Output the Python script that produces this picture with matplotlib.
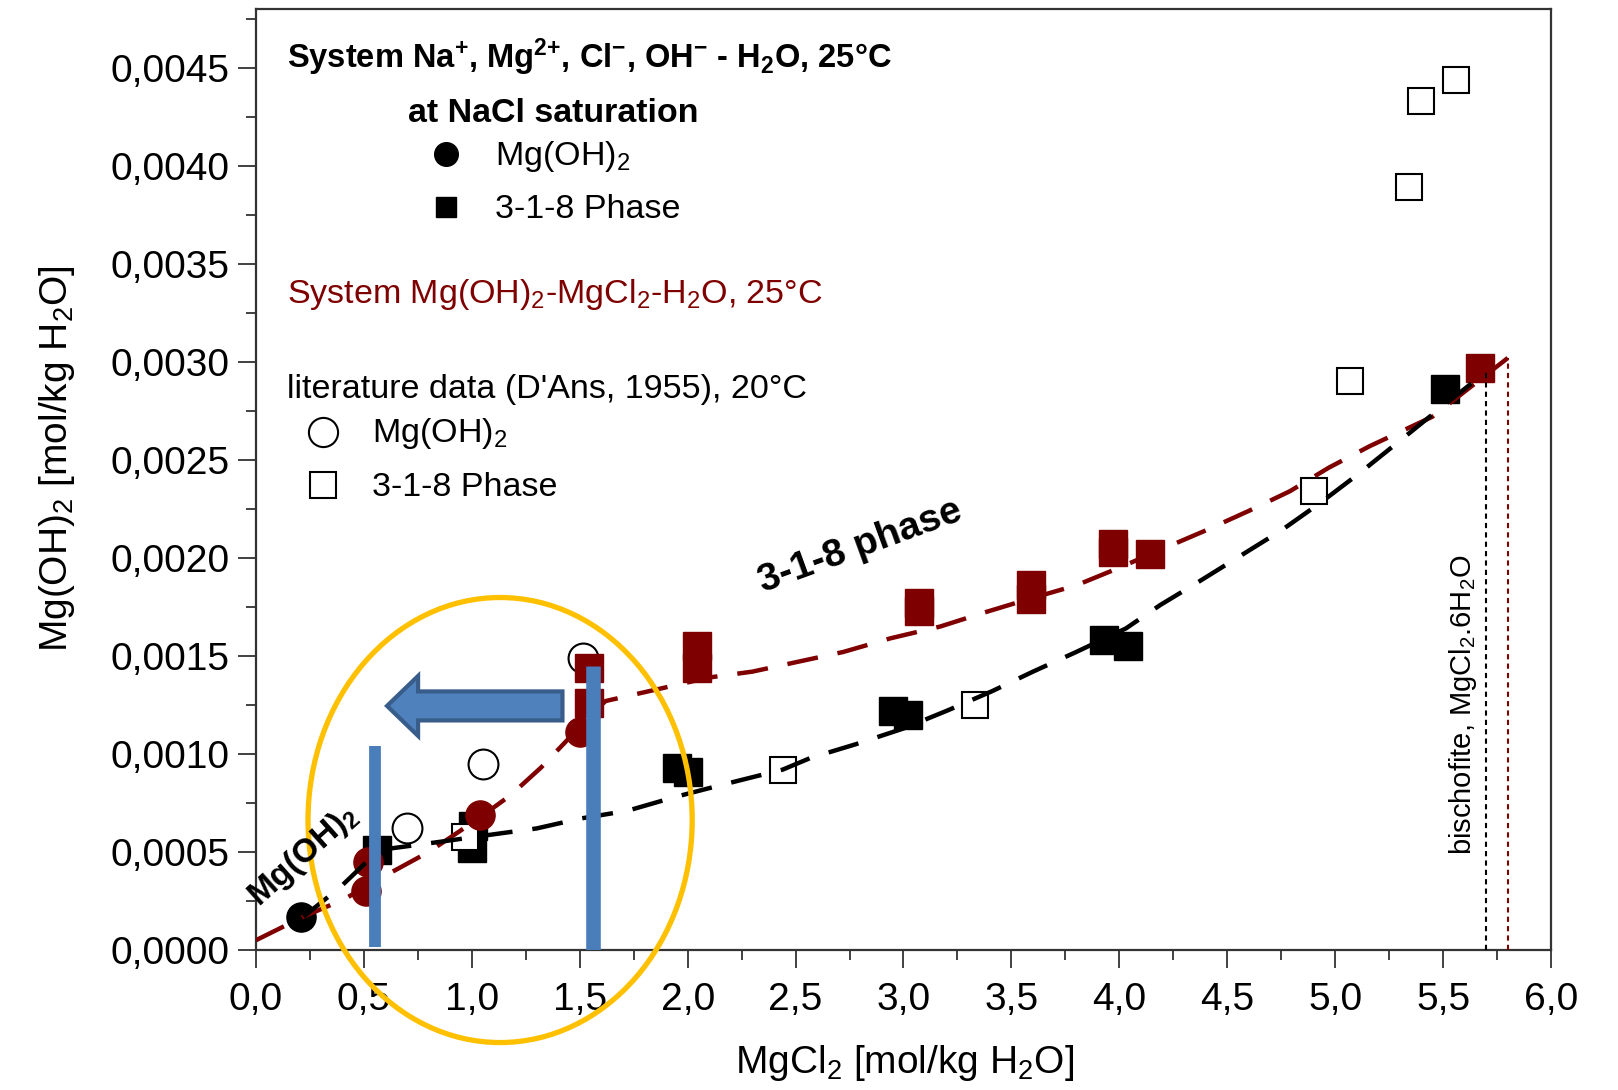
import matplotlib
matplotlib.use('Agg')
import matplotlib.pyplot as plt
from matplotlib.patches import Ellipse, FancyArrow
from matplotlib.ticker import MultipleLocator, FuncFormatter

plt.rcParams['font.family'] = ['Liberation Sans', 'DejaVu Sans']
plt.rcParams['mathtext.default'] = 'regular'

DARKRED = '#7F0000'
BLUE = '#4A7EBB'

# ---------------- data ----------------
# System Na+, Mg2+, Cl-, OH- - H2O at NaCl saturation (black)
nacl_mgoh2_x = [0.21]
nacl_mgoh2_y = [0.00017]
nacl_318_x = [0.56, 1.00, 1.005, 1.95, 2.00, 2.95, 3.02, 3.93, 4.04, 5.51]
nacl_318_y = [0.00051, 0.00052, 0.00063, 0.00093, 0.00091, 0.00122, 0.00120, 0.00158, 0.00155, 0.00286]

# System Mg(OH)2-MgCl2-H2O (dark red)
mg_mgoh2_x = [0.51, 0.52, 1.04, 1.50]
mg_mgoh2_y = [0.00030, 0.00045, 0.00069, 0.00111]
mg_318_x = [1.545, 1.545, 2.045, 2.045, 3.07, 3.07, 3.59, 3.59, 3.97, 3.97, 4.14, 5.67]
mg_318_y = [0.00144, 0.00126, 0.00155, 0.00144, 0.00177, 0.00173, 0.00186, 0.00179, 0.00207, 0.00203, 0.00202, 0.00297]

# literature data (D'Ans, 1955)
lit_mgoh2_x = [0.70, 1.05, 1.515]
lit_mgoh2_y = [0.00062, 0.00095, 0.00149]
lit_318_x = [0.97, 2.44, 3.33, 4.90, 5.07, 5.34, 5.40, 5.56]
lit_318_y = [0.000575, 0.00092, 0.00125, 0.00234, 0.00290, 0.00389, 0.00433, 0.00444]

# dashed solubility curves
curve_red_x = [0.0, 0.22, 0.41, 0.6, 0.8, 1.03, 1.18, 1.32, 1.45, 1.55, 1.62, 1.86, 2.1, 2.3,
               2.51, 2.72, 2.94, 3.17, 3.37, 3.58, 3.8, 4.0, 4.23, 4.4, 4.6, 4.79, 4.97, 5.16,
               5.45, 5.80]
curve_red_y = [0.00005, 0.00017, 0.00026, 0.00038, 0.00050, 0.00067, 0.00079, 0.00093, 0.00108,
               0.00120, 0.00127, 0.00133, 0.00139, 0.00142, 0.00147, 0.00152, 0.00159, 0.00165,
               0.00172, 0.00179, 0.00186, 0.00195, 0.00206, 0.00214, 0.00224, 0.00234, 0.00246,
               0.00257, 0.00272, 0.00302]
curve_black_x = [0.22, 0.39, 0.57, 0.84, 1.1, 1.3, 1.5, 1.72, 1.94, 2.15, 2.44, 2.57, 2.78, 3.0,
                 3.2, 3.41, 3.6, 3.8, 4.03, 4.19, 4.37, 4.56, 4.75, 4.93, 5.11, 5.28, 5.46, 5.70]
curve_black_y = [0.00017, 0.00032, 0.00051, 0.00055, 0.00059, 0.00062, 0.00067, 0.00071, 0.00078,
                 0.00084, 0.00092, 0.00098, 0.00105, 0.00113, 0.00122, 0.00132, 0.00142, 0.00152,
                 0.00164, 0.00176, 0.00188, 0.00201, 0.00214, 0.00228, 0.00243, 0.00258, 0.00274,
                 0.00295]

# bischofite saturation limits
bisch_black_x = 5.70
bisch_red_x = 5.80

# -------------- figure --------------
fig = plt.figure(figsize=(16.18, 10.9), dpi=100)
ax = fig.add_axes([0.15822, 0.12844, 0.80037, 0.86330])
ax.set_xlim(0, 6.0)
ax.set_ylim(0, 0.0048)

# markers
ax.plot(nacl_318_x, nacl_318_y, 's', color='black', ms=20, mec='black', zorder=3)
ax.plot(nacl_mgoh2_x, nacl_mgoh2_y, 'o', color='black', ms=21, mec='black', zorder=3)
ax.plot(lit_318_x, lit_318_y, 's', mfc='white', mec='black', mew=1.5, ms=19, zorder=4)
ax.plot(lit_mgoh2_x, lit_mgoh2_y, 'o', mfc='white', mec='black', mew=1.5, ms=21.5, zorder=4)
ax.plot(mg_318_x, mg_318_y, 's', color=DARKRED, mec=DARKRED, ms=20, zorder=5)
ax.plot(mg_mgoh2_x, mg_mgoh2_y, 'o', color=DARKRED, mec=DARKRED, ms=21, zorder=5)

# curves
ax.plot(curve_red_x, curve_red_y, color=DARKRED, lw=3.2, dashes=(7, 4.5), zorder=6)
ax.plot(curve_black_x, curve_black_y, color='black', lw=3.2, dashes=(7, 4.5), zorder=6)

# bischofite vertical lines
ax.plot([bisch_black_x, bisch_black_x], [0, curve_black_y[-1]], color='black', lw=1.5,
        dashes=(2.5, 2), zorder=6)
ax.plot([bisch_red_x, bisch_red_x], [0, curve_red_y[-1]], color=DARKRED, lw=1.5,
        dashes=(2.5, 2), zorder=6)

# annotations: blue bars, arrow and ellipse
ax.plot([0.551, 0.551], [0.000015, 0.00104], color=BLUE, lw=8.5, solid_capstyle='butt', zorder=7)
ax.plot([1.563, 1.563], [0.0, 0.00145], color=BLUE, lw=10.5, solid_capstyle='butt', zorder=7)
arrow = FancyArrow(1.42, 0.001245, -(1.42 - 0.607), 0, width=0.000148, head_width=0.000306,
                   head_length=0.144, length_includes_head=True, fc='#4F81BD', ec='#385D8A',
                   lw=3, zorder=7)
ax.add_patch(arrow)
ell = Ellipse((1.131, 0.000663), 1.78, 0.00227, fill=False, ec='#FFC000', lw=3.8,
              zorder=8, clip_on=False)
ax.add_patch(ell)

# in-plot texts
ax.text(2.80, 0.00206, '3-1-8 phase', fontsize=28, fontweight='bold', rotation=20,
        ha='center', va='center', zorder=9)
ax.text(0.218, 0.00048, 'Mg(OH)$_2$', fontsize=24, fontweight='bold', rotation=42,
        ha='center', va='center', zorder=9)
ax.text(5.59, 0.00125, 'bischofite, MgCl$_2$.6H$_2$O', fontsize=21, rotation=90,
        ha='center', va='center', zorder=9)

# legend block
T = ax.transAxes
ax.text(0.0239, 0.937, 'System Na$^{+}$, Mg$^{2{+}}$, Cl$^{-}$, OH$^{-}$ - H$_2$O, 25°C',
        transform=T, fontsize=23.5, fontweight='bold', va='baseline')
ax.text(0.117, 0.880, 'at NaCl saturation', transform=T, fontsize=24.5, fontweight='bold',
        va='baseline')
ax.plot([0.1467], [0.846], 'o', color='black', ms=17, transform=T, clip_on=False)
ax.text(0.1846, 0.834, 'Mg(OH)$_2$', transform=T, fontsize=24.5, va='baseline')
ax.plot([0.1467], [0.790], 's', color='black', ms=15, transform=T, clip_on=False)
ax.text(0.1846, 0.778, '3-1-8 Phase', transform=T, fontsize=24.5, va='baseline')
ax.text(0.0239, 0.6876, 'System Mg(OH)$_2$-MgCl$_2$-H$_2$O, 25°C', transform=T,
        fontsize=24.5, color=DARKRED, va='baseline')
ax.text(0.0239, 0.5866, "literature data (D'Ans, 1955), 20°C", transform=T, fontsize=24.5,
        va='baseline')
ax.plot([0.0517], [0.551], 'o', mfc='white', mec='black', mew=1.5, ms=21, transform=T,
        clip_on=False)
ax.text(0.0896, 0.540, 'Mg(OH)$_2$', transform=T, fontsize=24.5, va='baseline')
ax.plot([0.0517], [0.494], 's', mfc='white', mec='black', mew=1.5, ms=19, transform=T,
        clip_on=False)
ax.text(0.0896, 0.4825, '3-1-8 Phase', transform=T, fontsize=24.5, va='baseline')

# axes styling
ax.xaxis.set_major_locator(MultipleLocator(0.5))
ax.xaxis.set_minor_locator(MultipleLocator(0.25))
ax.yaxis.set_major_locator(MultipleLocator(0.0005))
ax.yaxis.set_minor_locator(MultipleLocator(0.00025))
ax.xaxis.set_major_formatter(FuncFormatter(lambda v, p: f'{v:.1f}'.replace('.', ',')))
ax.yaxis.set_major_formatter(FuncFormatter(lambda v, p: f'{v:.4f}'.replace('.', ',')))
ax.tick_params(which='major', direction='out', length=13, width=1.3, labelsize=28,
               color='#333333')
ax.tick_params(axis='y', which='major', pad=6)
ax.tick_params(axis='x', which='major', pad=10)
ax.tick_params(which='minor', direction='out', length=7.5, width=1.3, color='#333333')
for s in ax.spines.values():
    s.set_linewidth(1.6)
    s.set_color('#333333')

fig.text(905 / 1618, 1 - 1063 / 1090, 'MgCl$_2$ [mol/kg H$_2$O]', fontsize=28,
         ha='center', va='center')
fig.text(57 / 1618, 1 - 459 / 1090, 'Mg(OH)$_2$ [mol/kg H$_2$O]', fontsize=28,
         rotation=90, ha='center', va='center')

fig.savefig('out.png', dpi=100)
